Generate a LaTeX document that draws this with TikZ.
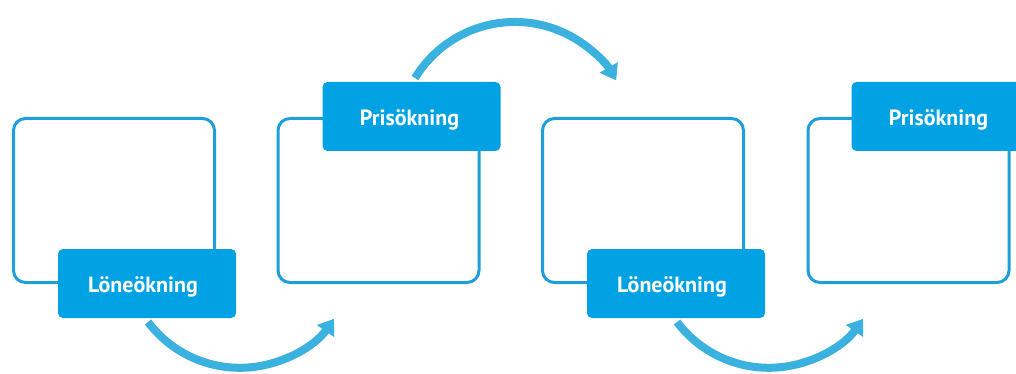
\documentclass[tikz,border=0pt]{standalone}
\usepackage{fontspec}
\setmainfont{PT Sans}
\usetikzlibrary{arrows.meta}
\definecolor{lblblue}{HTML}{00A2E3}
\definecolor{boxblue}{HTML}{1E9FDB}
\definecolor{arrblue}{HTML}{3AB1DF}
\newcommand{\lbltext}[2]{\hspace*{#1}\raisebox{-3pt}[\height][\depth]{#2}}
\tikzset{
  box/.style={draw=boxblue, line width=3pt, fill=white, rounded corners=12pt,
    minimum width=201pt, minimum height=164pt, inner sep=0pt},
  lbl/.style={fill=lblblue, rounded corners=5pt, minimum width=178pt, minimum height=69pt,
    inner sep=0pt, text=white, font=\bfseries\fontsize{22}{26}\selectfont},
  flow/.style={draw=arrblue, line width=8pt, -{Triangle[width=20pt,length=15pt]}}
}
\begin{document}
\begin{tikzpicture}[x=1pt,y=-1pt]
\clip (0,0) rectangle (1016,374);
\fill[white] (0,0) rectangle (1016,374);
% boxes
\node[box] (b1) at (114,200.5) {};
\node[box] (b2) at (378.5,200.5) {};
\node[box] (b3) at (643,200.5) {};
\node[box] (b4) at (908.5,200.5) {};
% labels
\node[lbl] (l1) at (147,283.5) {\lbltext{-8pt}{Löneökning}};
\node[lbl] (l2) at (411.5,116.5) {\lbltext{-4pt}{Prisökning}};
\node[lbl] (l3) at (676,283.5) {\lbltext{-8pt}{Löneökning}};
\node[lbl] (l4) at (940.5,116.5) {\lbltext{-4pt}{Prisökning}};
% arrows
\coordinate (a1) at (148,322);
\coordinate (a2) at (415,78);
\coordinate (a3) at (677,322);
\draw[flow] (a1) arc[start angle=143, end angle=35, radius=115];
\draw[flow] (a2) arc[start angle=-148.6, end angle=-30, radius=117];
\draw[flow] (a3) arc[start angle=143, end angle=35, radius=115];
\end{tikzpicture}
\end{document}
